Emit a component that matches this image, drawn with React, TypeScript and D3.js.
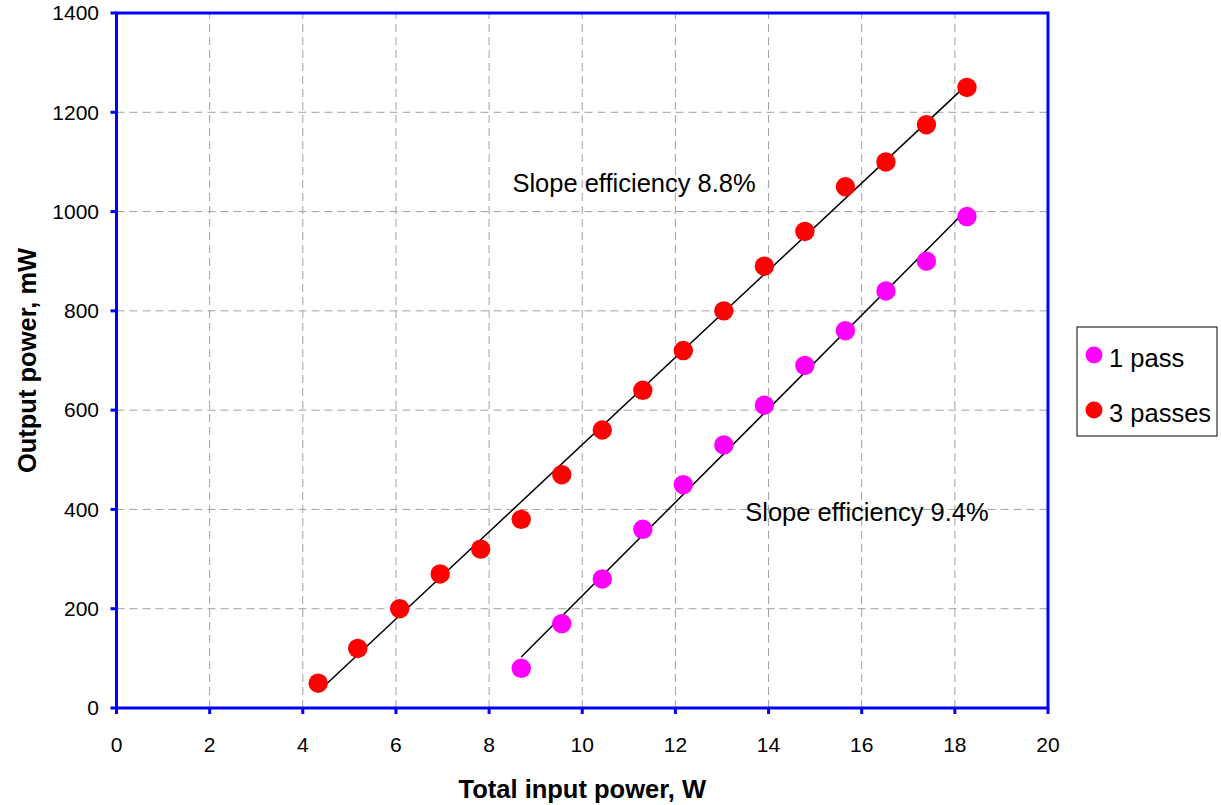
import React from 'react';
import { scaleLinear, line } from 'd3';

const width = 1221;
const height = 805;
const margin = { top: 13, right: 173, bottom: 97, left: 116.5 };

// input power, W (shared by both series)
const inputPower = [
  4.33, 5.18, 6.08, 6.95, 7.82, 8.69, 9.56, 10.43, 11.3, 12.17, 13.04, 13.91, 14.78, 15.65, 16.52,
  17.39, 18.26,
];
const threePasses = [
  50, 120, 200, 270, 320, 380, 470, 560, 640, 720, 800, 890, 960, 1050, 1100, 1175, 1250,
];
const onePassX = inputPower.slice(5);
const onePass = [80, 170, 260, 360, 450, 530, 610, 690, 760, 840, 900, 990];

const xTicks = [0, 2, 4, 6, 8, 10, 12, 14, 16, 18, 20];
const yTicks = [0, 200, 400, 600, 800, 1000, 1200, 1400];

const seriesNames = ['1 pass', '3 passes'];
const seriesColors = ['#ff00ff', '#ff0000'];

const notes = [
  { text: 'Slope efficiency 8.8%', x: 8.5, y: 1040 },
  { text: 'Slope efficiency 9.4%', x: 13.5, y: 377 },
];

const font = 'Arial, "Liberation Sans", sans-serif';

function fit(xs: number[], ys: number[]) {
  const n = xs.length;
  const mx = xs.reduce((a, b) => a + b, 0) / n;
  const my = ys.reduce((a, b) => a + b, 0) / n;
  let sxy = 0;
  let sxx = 0;
  xs.forEach((x, i) => {
    sxy += (x - mx) * (ys[i] - my);
    sxx += (x - mx) * (x - mx);
  });
  const k = sxy / sxx;
  const b = my - k * mx;
  const x0 = xs[0];
  const x1 = xs[n - 1];
  return [
    [x0, k * x0 + b],
    [x1, k * x1 + b],
  ] as [number, number][];
}

export default function App() {
  const xScale = scaleLinear().domain([0, 20]).range([margin.left, 1048]);
  const yScale = scaleLinear().domain([0, 1400]).range([height - margin.bottom, margin.top]);

  const lineGen = line<[number, number]>()
    .x((d) => xScale(d[0]))
    .y((d) => yScale(d[1]));

  const series = [
    { name: seriesNames[0], color: seriesColors[0], xs: onePassX, ys: onePass },
    { name: seriesNames[1], color: seriesColors[1], xs: inputPower, ys: threePasses },
  ];

  const blue = '#0000ff';
  const big = 25.5;

  return (
    <div style={{ position: 'absolute', left: 0, top: 0 }}>
      <svg width={width} height={height} style={{ display: 'block', background: '#fff' }}>
        {/* grid */}
        {xTicks.slice(1, -1).map((t) => (
          <line
            key={'gx' + t}
            x1={xScale(t)}
            x2={xScale(t)}
            y1={yScale(0)}
            y2={yScale(1400)}
            stroke="#a0a0a0"
            strokeWidth={1}
            strokeDasharray="8,5"
          />
        ))}
        {yTicks.slice(1, -1).map((t) => (
          <line
            key={'gy' + t}
            x1={xScale(0)}
            x2={xScale(20)}
            y1={yScale(t)}
            y2={yScale(t)}
            stroke="#a0a0a0"
            strokeWidth={1}
            strokeDasharray="8,5"
          />
        ))}

        {/* trend lines */}
        {series.map((s) => (
          <path key={'l' + s.name} d={lineGen(fit(s.xs, s.ys)) || ''} stroke="#000" strokeWidth={1.5} fill="none" />
        ))}

        {/* points */}
        {series.map((s) =>
          s.ys.map((v, i) => (
            <circle key={s.name + i} cx={xScale(s.xs[i])} cy={yScale(v)} r={9.7} fill={s.color} />
          ))
        )}

        {/* frame */}
        <rect
          x={xScale(0)}
          y={yScale(1400)}
          width={xScale(20) - xScale(0)}
          height={yScale(0) - yScale(1400)}
          fill="none"
          stroke={blue}
          strokeWidth={3}
        />

        {/* axes ticks + labels */}
        {xTicks.map((t) => (
          <g key={'xt' + t}>
            <line x1={xScale(t)} x2={xScale(t)} y1={yScale(0)} y2={yScale(0) + 6} stroke={blue} strokeWidth={3} />
            <text x={xScale(t)} y={752} textAnchor="middle" fontFamily={font} fontSize={21} fill="#000">
              {t}
            </text>
          </g>
        ))}
        {yTicks.map((t) => (
          <g key={'yt' + t}>
            <line x1={xScale(0) - 6} x2={xScale(0)} y1={yScale(t)} y2={yScale(t)} stroke={blue} strokeWidth={3} />
            <text
              x={99}
              y={yScale(t)}
              dy="0.35em"
              textAnchor="end"
              fontFamily={font}
              fontSize={21}
              fill="#000"
            >
              {t}
            </text>
          </g>
        ))}

        {/* annotations */}
        {notes.map((n) => (
          <text key={n.text} x={xScale(n.x)} y={yScale(n.y)} fontFamily={font} fontSize={big} fill="#000">
            {n.text}
          </text>
        ))}

        {/* axis titles */}
        <text
          x={(xScale(0) + xScale(20)) / 2}
          y={798}
          textAnchor="middle"
          fontFamily={font}
          fontSize={big}
          fontWeight="bold"
          fill="#000"
        >
          Total input power, W
        </text>
        <text
          transform={`translate(36, ${(yScale(0) + yScale(1400)) / 2}) rotate(-90)`}
          textAnchor="middle"
          fontFamily={font}
          fontSize={big}
          fontWeight="bold"
          fill="#000"
        >
          Output power, mW
        </text>

        {/* legend */}
        <g>
          <rect x={1077} y={327} width={140} height={109} fill="#fff" stroke="#000" strokeWidth={1} />
          {series.map((s, i) => (
            <g key={'lg' + s.name} transform={`translate(0, ${i * 55})`}>
              <circle cx={1094} cy={355} r={8.5} fill={s.color} />
              <text x={1109} y={367} fontFamily={font} fontSize={big} fill="#000">
                {s.name}
              </text>
            </g>
          ))}
        </g>
      </svg>
    </div>
  );
}
